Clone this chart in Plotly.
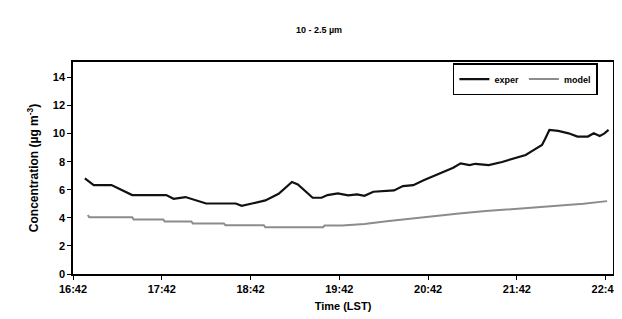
import plotly.graph_objects as go

# ---- data ----
exper_times = ["16:50", "16:56", "17:08", "17:14", "17:22", "17:45", "17:50", "17:58",
               "18:05", "18:12", "18:32", "18:36", "18:43", "18:52", "19:01", "19:10",
               "19:14", "19:24", "19:30", "19:34", "19:41", "19:48", "19:54", "19:59",
               "20:05", "20:19", "20:25", "20:32", "20:39", "20:52", "20:59", "21:04",
               "21:10", "21:14", "21:23", "21:32", "21:41", "21:48", "21:53", "21:59",
               "22:01", "22:04", "22:10", "22:17", "22:23", "22:30", "22:34", "22:38",
               "22:41", "22:44"]
exper_values = [6.81, 6.33, 6.33, 6.02, 5.62, 5.62, 5.36, 5.48,
                5.24, 5.02, 5.02, 4.86, 5.02, 5.24, 5.71, 6.55,
                6.38, 5.43, 5.43, 5.62, 5.74, 5.60, 5.67, 5.57,
                5.86, 5.95, 6.26, 6.33, 6.67, 7.26, 7.57, 7.88,
                7.76, 7.85, 7.76, 7.98, 8.29, 8.48, 8.81, 9.19,
                9.60, 10.26, 10.19, 10.02, 9.79, 9.79, 10.02, 9.83,
                10.00, 10.26]

model_times = ["16:52", "16:53", "17:22", "17:23", "17:43", "17:44", "18:02", "18:03",
               "18:24", "18:25", "18:51", "18:52", "19:31", "19:32", "19:44", "19:59",
               "20:14", "20:30", "20:47", "21:03", "21:21", "21:36", "21:54", "22:10",
               "22:27", "22:43"]
model_values = [4.20, 4.05, 4.05, 3.88, 3.88, 3.74, 3.74, 3.60,
                3.60, 3.48, 3.48, 3.33, 3.33, 3.45, 3.45, 3.57,
                3.76, 3.95, 4.12, 4.31, 4.48, 4.60, 4.76, 4.90,
                5.00, 5.19]

tick_times = ["16:42", "17:42", "18:42", "19:42", "20:42", "21:42", "22:42"]
tick_labels = ["16:42", "17:42", "18:42", "19:42", "20:42", "21:42", "22:43"]
y_ticks = [0, 2, 4, 6, 8, 10, 12, 14]

START = "16:42"
END = "22:47"


def minutes(t):
    h, m = t.split(":")
    return int(h) * 60 + int(m)


def offs(ts):
    return [minutes(t) - minutes(START) for t in ts]


font_family = "Liberation Sans, Arial, sans-serif"

fig = go.Figure()
fig.add_trace(go.Scatter(x=offs(exper_times), y=exper_values, mode="lines",
                         name="<b>exper</b>", line=dict(color="#111111", width=2.2)))
fig.add_trace(go.Scatter(x=offs(model_times), y=model_values, mode="lines",
                         name="<b>model</b>", line=dict(color="#8c8c8c", width=2)))

fig.update_layout(
    width=622, height=319,
    margin=dict(l=65, r=10, t=54, b=53),
    paper_bgcolor="white", plot_bgcolor="white",
    font=dict(family=font_family, color="black", size=11),
    title=dict(text="<b>10 - 2.5 µm</b>", x=0.5, xanchor="center", y=0.93, yanchor="middle",
               font=dict(size=9, family=font_family)),
    showlegend=True,
    legend=dict(orientation="h", x=0.972, xanchor="right", y=0.995, yanchor="top",
                bordercolor="black", borderwidth=1.5, bgcolor="white",
                font=dict(size=9, family=font_family), itemwidth=30,
                tracegroupgap=0, entrywidth=0),
)

fig.update_xaxes(
    range=[0, minutes(END) - minutes(START)],
    tickvals=offs(tick_times), ticktext=["<b>%s</b>" % t for t in tick_labels],
    showgrid=False, zeroline=False,
    showline=True, linecolor="black", linewidth=1.5, mirror=True,
    ticks="outside", ticklen=4, tickcolor="black", tickwidth=1,
    tickfont=dict(size=11),
    title=dict(text="<b>Time (LST)</b>", standoff=8, font=dict(size=11)),
)
fig.update_yaxes(
    range=[0, 15.1],
    tickvals=y_ticks, ticktext=["<b>%d</b>" % v for v in y_ticks],
    showgrid=False, zeroline=False,
    showline=True, linecolor="black", linewidth=1.5, mirror=True,
    ticks="outside", ticklen=4, tickcolor="black", tickwidth=1,
    tickfont=dict(size=11),
    title=dict(text="<b>Concentration (µg m<sup>-3</sup>)</b>", standoff=12, font=dict(size=12)),
)

fig.write_html("out.html")
